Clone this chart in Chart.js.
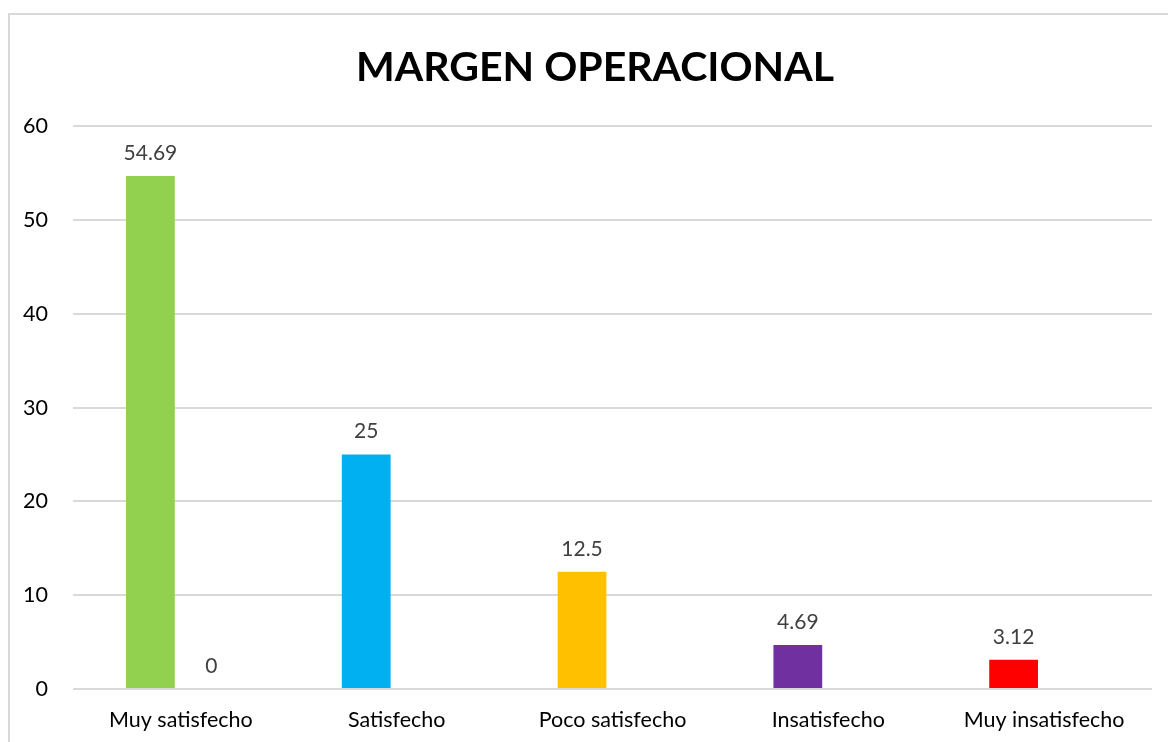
<!DOCTYPE html>
<html>
<head>
<meta charset="utf-8">
<script src="https://cdn.jsdelivr.net/npm/chart.js@4/dist/chart.umd.min.js"></script>
<style>
  html, body { margin: 0; padding: 0; background: #fff; }
  #frame { position: absolute; left: 8px; top: 13px; width: 1300px; height: 900px; border: 2px solid #d9d9d9; }
  #wrap { position: absolute; left: 0; top: 0; width: 1168px; height: 742px; }
</style>
</head>
<body>
<div id="frame"></div>
<div id="wrap"><canvas id="myChart"></canvas></div>
<script>
"use strict";

var categories = ["Muy satisfecho", "Satisfecho", "Poco satisfecho", "Insatisfecho", "Muy insatisfecho"];
var values = [54.69, 25, 12.5, 4.69, 3.12];
var secondValues = [0, null, null, null, null];
var barColors = ['#92D050', '#00B0F0', '#FFC000', '#7030A0', '#FF0000'];
var yTicks = [0, 10, 20, 30, 40, 50, 60];

// small inline plugin for the value labels above the bars
var valueLabels = {
    id: 'valueLabels',
    afterLayout: function(chart) {
        // title is centred on the frame, not on the canvas
        if (chart.titleBlock) chart.titleBlock.left = 38;
    },
    afterDatasetsDraw: function(chart) {
        var ctx = chart.ctx;
        ctx.save();
        ctx.font = "21px Lato, sans-serif";
        ctx.fillStyle = '#404040';
        ctx.textAlign = 'center';
        ctx.textBaseline = 'middle';
        chart.data.datasets.forEach(function(ds, i) {
            chart.getDatasetMeta(i).data.forEach(function(bar, j) {
                var v = ds.data[j];
                if (v === null || v === undefined) return;
                ctx.fillText(String(v), bar.x, bar.y - 23);
            });
        });
        ctx.restore();
    }
};

var myChart = document.getElementById('myChart').getContext('2d');
var chart = new Chart(myChart, {
    type: 'bar',
    data: {
        labels: categories,
        datasets: [{
            label: "Serie 1",
            backgroundColor: barColors,
            data: values,
        },
        {
            label: "Serie 2",
            backgroundColor: '#A5A5A5',
            data: secondValues,
        }]
    },
    options: {
        responsive: true,
        maintainAspectRatio: false,
        animation: false,
        categoryPercentage: 0.565,
        barPercentage: 0.8,
        layout: { padding: { left: 0, right: 16, top: 0, bottom: 0 } },
        plugins: {
            legend: { display: false },
            tooltip: { enabled: false },
            title: {
                display: true,
                text: 'MARGEN OPERACIONAL',
                color: '#000',
                font: { family: "Lato, sans-serif", size: 41, weight: 'bold', lineHeight: 1.2 },
                padding: { top: 43, bottom: 34 }
            }
        },
        scales: {
            x: {
                grid: { display: false, drawTicks: false },
                border: { display: false },
                ticks: { color: '#000', font: { family: "Lato, sans-serif", size: 21.5 }, padding: 18, maxRotation: 0 },
                afterFit: function(s) { s.height = 53; }
            },
            y: {
                min: 0,
                max: 60,
                afterBuildTicks: function(s) { s.ticks = yTicks.map(function(v) { return { value: v }; }); },
                grid: { color: '#d9d9d9', lineWidth: 2, drawTicks: false },
                border: { display: false },
                ticks: { color: '#000', font: { family: "Lato, sans-serif", size: 21.5 }, padding: 25 },
                afterFit: function(s) { s.width = 73; }
            }
        }
    },
    plugins: [valueLabels]
});
</script>
</body>
</html>
